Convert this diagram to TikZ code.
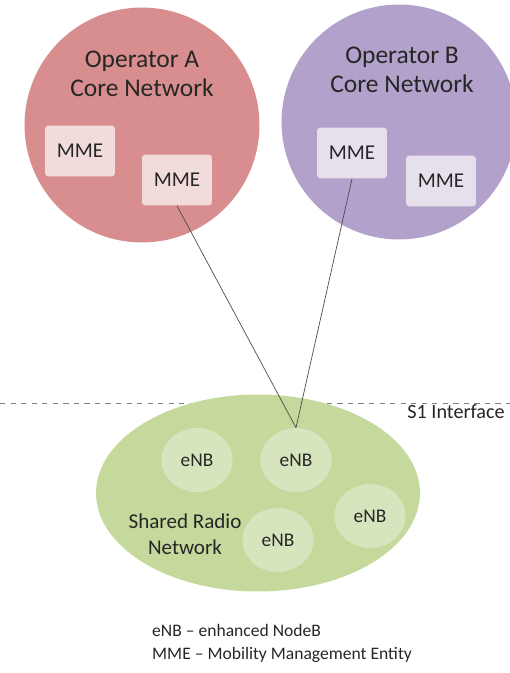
\documentclass[tikz,border=0pt]{standalone}
\usepackage{fontspec}
\setmainfont{Carlito}
\usetikzlibrary{shapes.geometric,positioning}
\definecolor{opared}{HTML}{D88E8E}
\definecolor{opbpurple}{HTML}{B2A1CB}
\definecolor{mmered}{HTML}{F2DCDB}
\definecolor{mmepurple}{HTML}{E6E0EC}
\definecolor{radiogreen}{HTML}{C4D99B}
\definecolor{enbgreen}{HTML}{D7E5BE}
\definecolor{txt}{HTML}{262626}

\begin{document}
\begin{tikzpicture}[x=0.02cm,y=-0.02cm,
  core/.style={circle,inner sep=0pt,minimum size=4.7cm},
  mmebox/.style={rounded corners=2pt,minimum width=1.4cm,minimum height=1.02cm,
    text=txt,font=\fontsize{12}{14}\selectfont},
  enb/.style={ellipse,fill=enbgreen,minimum width=1.42cm,minimum height=1.28cm,
    inner sep=0pt,text=txt,font=\fontsize{11}{13}\selectfont},
  title/.style={align=center,text=txt,font=\fontsize{14.5}{16.5}\selectfont}]
\useasboundingbox (0,0) rectangle (510,673);
% core networks
\node[core,fill=opared] (opA) at (142,125) {};
\node[core,fill=opbpurple] (opB) at (399,122) {};
\node[title] (opAtxt) at (142,74) {Operator A\\Core Network};
\node[title] (opBtxt) at (402,70) {Operator B\\Core Network};
\node[mmebox,fill=mmered] (mmeA1) at (80,151) {MME};
\node[mmebox,fill=mmered] (mmeA2) at (177,180) {MME};
\node[mmebox,fill=mmepurple] (mmeB1) at (352,153) {MME};
\node[mmebox,fill=mmepurple] (mmeB2) at (441,181) {MME};
% S1 interface
\coordinate (s1l) at (0,403);
\coordinate (s1r) at (510,403);
\draw[dashed,gray,thin] (s1l) -- (s1r);
\node[text=txt,font=\fontsize{11.5}{13}\selectfont] (s1) at (456,412) {S1 Interface};
% shared radio network
\node[ellipse,fill=radiogreen,minimum width=6.48cm,minimum height=3.94cm] (radio) at (258,493) {};
\node[enb] (enb1) at (197,460) {eNB};
\node[enb] (enb2) at (296,460) {eNB};
\node[enb] (enb3) at (370,516) {eNB};
\node[enb] (enb4) at (278,540) {eNB};
\node[title,font=\fontsize{12}{15}\selectfont] (radiotxt) at (185,534) {Shared Radio\\Network};
\draw[black!70] (mmeA2.south) -- (enb2.north);
\draw[black!70] (mmeB1.south) -- (enb2.north);
% legend
\node[anchor=west,align=left,text=txt,font=\fontsize{10}{13}\selectfont] (legend) at (146,643)
  {eNB -- enhanced NodeB\\MME -- Mobility Management Entity};
\end{tikzpicture}
\end{document}
